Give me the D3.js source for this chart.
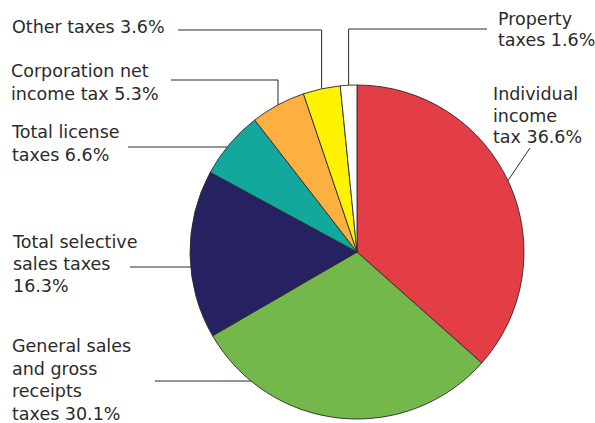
<!DOCTYPE html>
<html><head><meta charset="utf-8">
<script src="https://cdn.jsdelivr.net/npm/d3@7"></script>
<style>body{margin:0;background:#fff}svg{display:block}</style>
</head><body>
<script>
const categories = ["Individual income tax","General sales and gross receipts taxes","Total selective sales taxes","Total license taxes","Corporation net income tax","Other taxes","Property taxes"];
const values = [36.6, 30.1, 16.3, 6.6, 5.3, 3.6, 1.6];
const labelLines = [
  ["Individual","income","tax 36.6%"],
  ["General sales","and gross","receipts","taxes 30.1%"],
  ["Total selective","sales taxes","16.3%"],
  ["Total license","taxes 6.6%"],
  ["Corporation net","income tax 5.3%"],
  ["Other taxes 3.6%"],
  ["Property","taxes 1.6%"]
];
const colors = ["#E33D45","#74B74B","#262262","#13A89E","#FBB040","#FFF200","#FFFFFF"];

const W=595,H=423,cx=357,cy=252,R=167;
const svg=d3.select("body").append("svg").attr("width",W).attr("height",H);
const pie=d3.pie().sort(null).value(d=>d)(values);
const arc=d3.arc().innerRadius(0).outerRadius(R);
const g=svg.append("g").attr("transform",`translate(${cx},${cy})`);
g.selectAll("path").data(pie).join("path").attr("d",arc)
  .attr("fill",(d,i)=>colors[i]).attr("stroke","#2b2b2b").attr("stroke-width",0.9);

// label layout: text x, first baseline, line height, leader type
const lay = [
  {x:493,y:100,lh:21.5,type:"diag",from:[530,148]},
  {x:12,y:352,lh:22.6,type:"h",ly:381,lx:155},
  {x:13,y:248,lh:22,type:"h",ly:267,lx:130},
  {x:12,y:138,lh:22.5,type:"h",ly:147,lx:128},
  {x:11,y:77,lh:23,type:"elbow",ly:80,lx:171},
  {x:12,y:33,lh:22,type:"elbow",ly:30,lx:178},
  {x:498,y:25,lh:21,type:"elbowR",ly:29,lx:487}
];
const col="#2a2a2a";
pie.forEach((p,i)=>{
  const L=lay[i];
  const t=svg.append("text").attr("x",L.x).attr("y",L.y)
    .attr("font-family","DejaVu Sans, sans-serif").attr("font-size",17.5).attr("fill",col);
  labelLines[i].forEach((s,k)=>t.append("tspan").attr("x",L.x).attr("y",L.y+k*L.lh).text(s));
  const mid=(p.startAngle+p.endAngle)/2;
  let pts;
  if(L.type==="h"){
    const ex=cx-Math.sqrt(R*R-(L.ly-cy)**2);
    pts=[[L.lx,L.ly],[ex,L.ly]];
  } else if(L.type==="elbow"||L.type==="elbowR"){
    const ex=cx+R*Math.sin(mid), ey=cy-R*Math.cos(mid);
    pts=[[L.lx,L.ly],[ex,L.ly],[ex,ey]];
  } else {
    const a=mid-0.02;
    pts=[L.from,[cx+R*Math.sin(a),cy-R*Math.cos(a)]];
  }
  svg.append("path").attr("d",d3.line()(pts)).attr("fill","none")
    .attr("stroke","#2b2b2b").attr("stroke-width",1);
});
</script>
</body></html>
